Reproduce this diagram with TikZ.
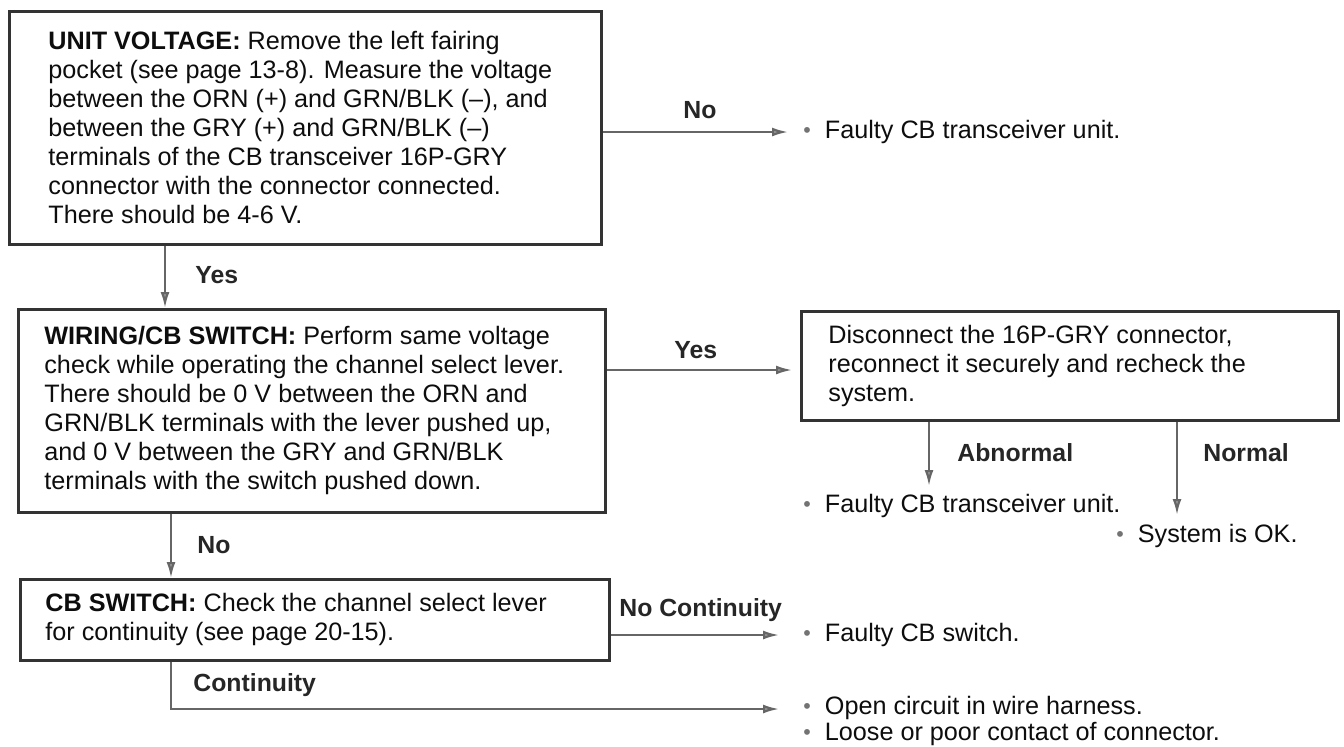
\documentclass[tikz,border=0pt]{standalone}
\usepackage{fontspec}
\setmainfont{Liberation Sans}
\usetikzlibrary{arrows.meta,calc}
\newcommand{\bul}{\textcolor{black!55}{\raisebox{0.6pt}{\scalebox{0.85}{•}}}\hspace{7pt}}
\begin{document}
\begin{tikzpicture}[x=0.5pt,y=-0.5pt,
  box/.style={draw=black!80, line width=1.3pt, inner sep=0pt, anchor=north west},
  txt/.style={inner sep=0pt, align=left, anchor=west, font=\fontsize{12.6pt}{14.5pt}\selectfont, text=black!95},
  lbl/.style={inner sep=0pt, anchor=west, font=\fontsize{12.4pt}{14.5pt}\selectfont\bfseries, text=black!85},
  con/.style={draw=black!60, line width=1.1pt, -{Latex[length=8pt,width=4.5pt,fill=black!40]}},
]
\useasboundingbox (0,0) rectangle (1344,746);

% boxes
\node[box, minimum width=296pt, minimum height=116.5pt] (b1) at (8,10) {};
\node[box, minimum width=293.5pt, minimum height=101.5pt] (b2) at (17,308) {};
\node[box, minimum width=294.5pt, minimum height=40.5pt] (b3) at (19,578) {};
\node[box, minimum width=268.5pt, minimum height=54.5pt] (b4) at (800,310) {};

% box texts
\node[txt] (t1) at ($(b1.west)+(40,0)$) {\textbf{UNIT VOLTAGE:} Remove the left fairing\\
pocket (see page 13-8). Measure the voltage\\
between the ORN (+) and GRN/BLK (–), and\\
between the GRY (+) and GRN/BLK (–)\\
terminals of the CB transceiver 16P-GRY\\
connector with the connector connected.\\
There should be 4-6 V.};
\node[txt] (t2) at ($(b2.west)+(27,0)$) {\textbf{WIRING/CB SWITCH:} Perform same voltage\\
check while operating the channel select lever.\\
There should be 0 V between the ORN and\\
GRN/BLK terminals with the lever pushed up,\\
and 0 V between the GRY and GRN/BLK\\
terminals with the switch pushed down.};
\node[txt] (t3) at ($(b3.west)+(26,0)$) {\textbf{CB SWITCH:} Check the channel select lever\\
for continuity (see page 20-15).};
\node[txt] (t4) at ($(b4.west)+(28,0)$) {Disconnect the 16P-GRY connector,\\
reconnect it securely and recheck the\\
system.};

% results
\node[txt] (r1) at (803,132) {\bul Faulty CB transceiver unit.};
\node[txt] (r2) at (803,506) {\bul Faulty CB transceiver unit.};
\node[txt] (r3) at (1116,536) {\bul System is OK.};
\node[txt] (r4) at (803,635) {\bul Faulty CB switch.};
\node[txt] (r5) at (803,708) {\bul Open circuit in wire harness.};
\node[txt] (r6) at (803,734) {\bul Loose or poor contact of connector.};

% connector coordinates
\coordinate (ys) at ($(b1.south west)+(157,0)$);
\coordinate (ns) at ($(b1.north east)+(0,122)$);
\coordinate (ne) at (788,132);
\coordinate (y2s) at ($(b2.north east)+(0,62)$);
\coordinate (ab) at ($(b4.south west)+(129,0)$);
\coordinate (abe) at (929,486);
\coordinate (nm) at ($(b4.south west)+(377,0)$);
\coordinate (nme) at (1177,515);
\coordinate (n2s) at ($(b2.south west)+(154,0)$);
\coordinate (ncs) at ($(b3.north east)+(0,57)$);
\coordinate (nce) at (779,635);
\coordinate (cs) at ($(b3.south west)+(152,0)$);
\coordinate (cc) at (171,709);
\coordinate (ce) at (779,709);

% connectors
\draw[con] (ys) -- (ys |- b2.north);
\draw[con] (ns) -- (ne);
\draw[con, shorten >=4pt] (y2s) -- (y2s -| b4.west);
\draw[con] (ab) -- (abe);
\draw[con] (nm) -- (nme);
\draw[con] (n2s) -- (n2s |- b3.north);
\draw[con] (ncs) -- (nce);
\draw[con] (cs) -- (cc) -- (ce);

% labels
\node[lbl] (lyes1) at (195,275) {Yes};
\node[lbl] (lno1) at (683,110) {No};
\node[lbl] (lyes2) at (674,350) {Yes};
\node[lbl] (lab) at (957,453) {Abnormal};
\node[lbl] (lnm) at (1203,453) {Normal};
\node[lbl] (lno2) at (197,545) {No};
\node[lbl] (lnc) at (619,610) {No Continuity};
\node[lbl] (lc) at (193,685) {Continuity};
\end{tikzpicture}
\end{document}
